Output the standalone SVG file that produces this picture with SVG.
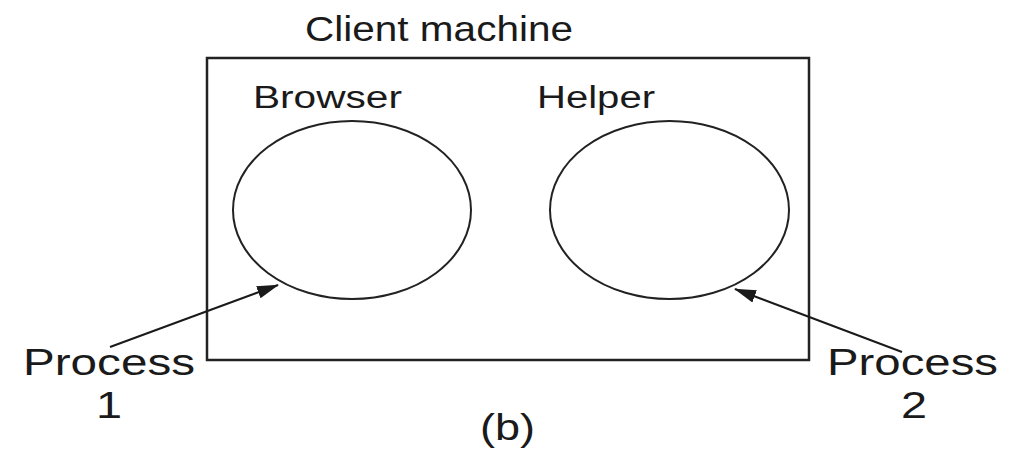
<svg xmlns="http://www.w3.org/2000/svg" width="1025" height="454" viewBox="0 0 1025 454">
  <style>
    .lbl { font-family: "Liberation Sans", Arial, sans-serif; fill: #1a1a1a; }
    .shape { fill: none; stroke: #222; }
    .conn { stroke: #1a1a1a; stroke-width: 2; fill: none; }
  </style>
  <defs>
    <marker id="arrow" markerUnits="userSpaceOnUse" markerWidth="22" markerHeight="14" refX="21" refY="6.5" orient="auto">
      <path d="M0,0 L22,6.5 L0,13 Z" fill="#1a1a1a"/>
    </marker>
  </defs>
  <rect width="1025" height="454" fill="#ffffff"/>

  <g id="client-machine">
    <rect class="shape" x="207" y="58" width="602" height="302" stroke-width="2.5"/>
    <text class="lbl" x="305" y="41" font-size="35" textLength="268" lengthAdjust="spacingAndGlyphs">Client machine</text>
  </g>

  <g id="browser">
    <ellipse class="shape" cx="352" cy="210" rx="119" ry="89" stroke-width="2"/>
    <text class="lbl" x="253" y="108" font-size="31" textLength="149" lengthAdjust="spacingAndGlyphs">Browser</text>
  </g>

  <g id="helper">
    <ellipse class="shape" cx="669.5" cy="210" rx="119.5" ry="89" stroke-width="2"/>
    <text class="lbl" x="537" y="108" font-size="31" textLength="118" lengthAdjust="spacingAndGlyphs">Helper</text>
  </g>

  <g id="process1">
    <text class="lbl" x="23" y="375" font-size="36" textLength="172" lengthAdjust="spacingAndGlyphs">Process</text>
    <text class="lbl" x="109" y="418" font-size="36" text-anchor="middle" transform="translate(109,0) scale(1.3,1) translate(-109,0)">1</text>
  </g>

  <g id="process2">
    <text class="lbl" x="827" y="375" font-size="36" textLength="171" lengthAdjust="spacingAndGlyphs">Process</text>
    <text class="lbl" x="914" y="418" font-size="36" text-anchor="middle" transform="translate(914,0) scale(1.3,1) translate(-914,0)">2</text>
  </g>

  <g id="caption">
    <text class="lbl" x="480" y="440" font-size="36" textLength="55" lengthAdjust="spacingAndGlyphs">(b)</text>
  </g>

  <g id="connectors">
    <line class="conn" x1="110" y1="347" x2="278" y2="285" marker-end="url(#arrow)"/>
    <line class="conn" x1="902" y1="352" x2="735" y2="289" marker-end="url(#arrow)"/>
  </g>
</svg>
